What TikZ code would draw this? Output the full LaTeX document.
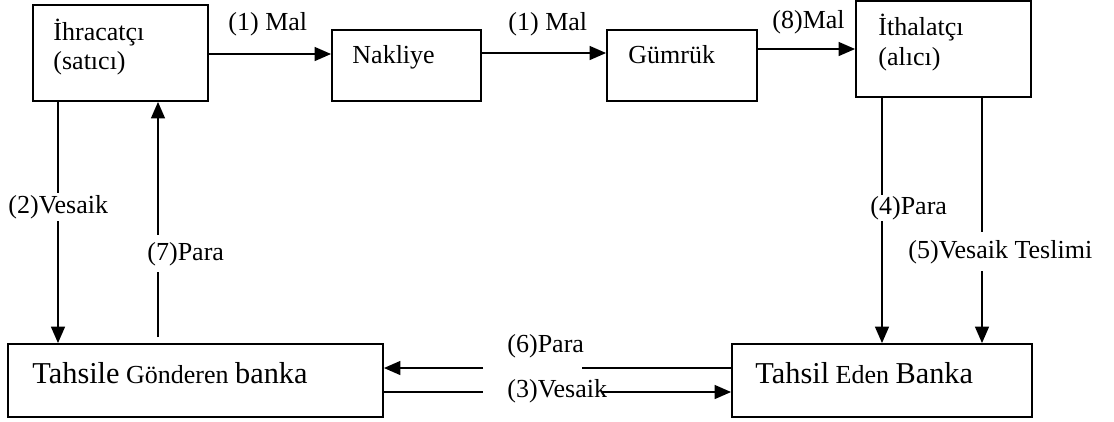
\documentclass[tikz,border=0pt]{standalone}
\usepackage{fontspec}
\setmainfont{Liberation Serif}
\usetikzlibrary{arrows.meta}
\begin{document}
\begin{tikzpicture}[x=0.4615pt,y=-0.4615pt,
  box/.style={draw, line width=0.85pt, inner sep=0pt, rectangle},
  flow/.style={line width=0.85pt},
  arr/.style={flow, -{Triangle[length=7.6pt,width=6.4pt]}},
  txt/.style={inner sep=0pt, anchor=base west, font=\fontsize{12}{14}\selectfont},
  lbl/.style={txt, fill=white, inner xsep=0pt}]
\useasboundingbox (0,0) rectangle (1114,421);

% boxes
\node[box, minimum width=175*0.4615pt, minimum height=96*0.4615pt] (exp) at (120.5,53) {};
\node[box, minimum width=149*0.4615pt, minimum height=71*0.4615pt] (nak) at (406.5,65.5) {};
\node[box, minimum width=150*0.4615pt, minimum height=71*0.4615pt] (gum) at (682,65.5) {};
\node[box, minimum width=175*0.4615pt, minimum height=96*0.4615pt] (ith) at (943.5,49) {};
\node[box, minimum width=375*0.4615pt, minimum height=73*0.4615pt] (gon) at (195.5,380.5) {};
\node[box, minimum width=300*0.4615pt, minimum height=73*0.4615pt] (eden) at (882,380.5) {};

% box texts
\node[txt] (expA) at (53,40) {İhracatçı};
\node[txt] (expB) at (53,69) {(satıcı)};
\node[txt] (nakT) at (352,63) {Nakliye};
\node[txt] (gumT) at (628,63) {Gümrük};
\node[txt] (ithA) at (878,35) {İthalatçı};
\node[txt] (ithB) at (878,65) {(alıcı)};
\node[txt] (gonT) at (32,383) {{\fontsize{14}{16}\selectfont Tahsile} Gönderen {\fontsize{14}{16}\selectfont banka}};
\node[txt] (edenT) at (755,383) {{\fontsize{14}{16}\selectfont Tahsil} Eden {\fontsize{14}{16}\selectfont Banka}};

% helper positions for the connectors
\coordinate (h1) at (0,54);
\coordinate (h2) at (0,53);
\coordinate (h3) at (0,49);
\coordinate (v2) at (58,0);
\coordinate (v7) at (158,337);
\coordinate (v4) at (882,0);
\coordinate (v5) at (982,0);
\coordinate (p6l) at (483,368);
\coordinate (p6r) at (582,368);
\coordinate (q3l) at (483,392);
\coordinate (q3r) at (602,392);

% goods flow
\draw[arr] (exp.east |- h1) -- (nak.west |- h1);
\draw[arr] (nak.east |- h2) -- (gum.west |- h2);
\draw[arr] (gum.east |- h3) -- (ith.west |- h3);

% document and payment flows
\draw[arr] (exp.south -| v2) -- (gon.north -| v2);
\draw[arr] (v7) -- (exp.south -| v7);
\draw[arr] (ith.south -| v4) -- (eden.north -| v4);
\draw[arr] (ith.south -| v5) -- (eden.north -| v5);
\draw[flow] (eden.west |- p6r) -- (p6r);
\draw[arr] (p6l) -- (gon.east |- p6l);
\draw[flow] (gon.east |- q3l) -- (q3l);

% flow labels
\node[txt] (l1a) at (228,30) {(1) Mal};
\node[txt] (l1b) at (508,30) {(1) Mal};
\node[txt] (l8) at (772,28) {(8)Mal};
\node[lbl, inner ysep=1pt] (l2) at (8,213) {(2)Vesaik};
\node[lbl, inner ysep=3pt] (l7) at (147,260) {(7)Para};
\node[lbl, inner ysep=0.5pt] (l4) at (870,214) {(4)Para};
\node[lbl, inner ysep=3.5pt] (l5) at (908,258) {(5)Vesaik Teslimi};
\node[txt] (l6) at (507,352) {(6)Para};
\node[txt] (l3) at (507,397) {(3)Vesaik};

\draw[arr] (q3r) -- (eden.west |- q3r);
\end{tikzpicture}
\end{document}
